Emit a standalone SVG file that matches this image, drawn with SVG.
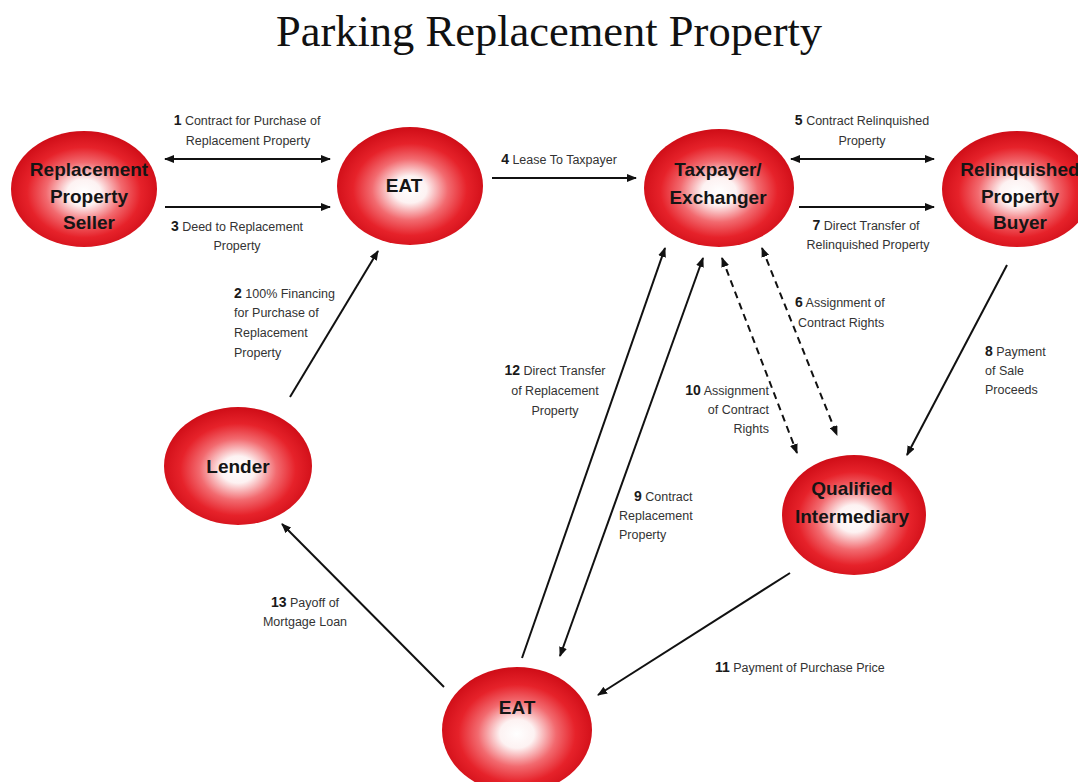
<svg xmlns="http://www.w3.org/2000/svg" width="1078" height="782" viewBox="0 0 1078 782">
<style>
.title{font-family:"Liberation Serif","Times New Roman",serif;font-size:44.5px;fill:#111}
.node{fill:url(#ball)}
.nt{font-family:"Liberation Sans",Arial,sans-serif;font-weight:bold;font-size:19px;fill:#151515;text-anchor:middle}
.lb{font-family:"Liberation Sans",Arial,sans-serif;font-size:12.5px;fill:#333}
.n{font-weight:bold;font-size:14px;fill:#1a1a1a}
.m{text-anchor:middle}
.e{text-anchor:end}
.ar{stroke:#111;stroke-width:2;fill:none;marker-end:url(#ah)}
.ar2{stroke:#111;stroke-width:2;fill:none;marker-end:url(#ah);marker-start:url(#ah)}
.ds{stroke-dasharray:7,5}
</style>
<defs>
<radialGradient id="ball" cx="50%" cy="53%" r="52%">
<stop offset="0" stop-color="#ffffff"/>
<stop offset="0.22" stop-color="#fdf2f2"/>
<stop offset="0.5" stop-color="#f26a6f"/>
<stop offset="0.75" stop-color="#e6222a"/>
<stop offset="1" stop-color="#d00e18"/>
</radialGradient>
<marker id="ah" viewBox="0 0 10 8" refX="9" refY="4" markerWidth="10" markerHeight="8" markerUnits="userSpaceOnUse" orient="auto-start-reverse">
<path d="M0,0 L10,4 L0,8 z" fill="#111"/>
</marker>
</defs>
<rect width="1078" height="782" fill="#ffffff"/>
<text class="title" x="549" y="46" text-anchor="middle">Parking Replacement Property</text>

<g id="connectors">
<line class="ar2" x1="165" y1="159" x2="330" y2="159"/>
<line class="ar" x1="165" y1="207" x2="330" y2="207"/>
<line class="ar" x1="492" y1="178" x2="636" y2="178"/>
<line class="ar2" x1="791" y1="159" x2="934" y2="159"/>
<line class="ar" x1="799" y1="207" x2="934" y2="207"/>
<line class="ar" x1="290" y1="397" x2="378" y2="251"/>
<line class="ar" x1="522" y1="658" x2="665" y2="248"/>
<line class="ar2" x1="703" y1="258" x2="560" y2="656"/>
<line class="ar2 ds" x1="722" y1="258" x2="797" y2="453"/>
<line class="ar2 ds" x1="762" y1="248" x2="837" y2="435"/>
<line class="ar" x1="1007" y1="265" x2="907" y2="455"/>
<line class="ar" x1="790" y1="573" x2="598" y2="695"/>
<line class="ar" x1="444" y1="687" x2="282" y2="524"/>

<text class="lb m" x="247" y="125"><tspan class="n">1</tspan> Contract for Purchase of</text>
<text class="lb m" x="248" y="145">Replacement Property</text>
<text class="lb m" x="237" y="231"><tspan class="n">3</tspan> Deed to Replacement</text>
<text class="lb m" x="237" y="250">Property</text>
<text class="lb m" x="559" y="164"><tspan class="n">4</tspan> Lease To Taxpayer</text>
<text class="lb m" x="862" y="125"><tspan class="n">5</tspan> Contract Relinquished</text>
<text class="lb m" x="862" y="145">Property</text>
<text class="lb m" x="866" y="230"><tspan class="n">7</tspan> Direct Transfer of</text>
<text class="lb m" x="868" y="249">Relinquished Property</text>
<text class="lb" x="234" y="298"><tspan class="n">2</tspan> 100% Financing</text>
<text class="lb" x="234" y="317">for Purchase of</text>
<text class="lb" x="234" y="337">Replacement</text>
<text class="lb" x="234" y="357">Property</text>
<text class="lb m" x="555" y="375"><tspan class="n">12</tspan> Direct Transfer</text>
<text class="lb m" x="555" y="395">of Replacement</text>
<text class="lb m" x="555" y="415">Property</text>
<text class="lb e" x="769" y="395"><tspan class="n">10</tspan> Assignment</text>
<text class="lb e" x="769" y="414">of Contract</text>
<text class="lb e" x="769" y="433">Rights</text>
<text class="lb" x="795" y="307"><tspan class="n">6</tspan> Assignment of</text>
<text class="lb" x="798" y="327">Contract Rights</text>
<text class="lb" x="985" y="356"><tspan class="n">8</tspan> Payment</text>
<text class="lb" x="985" y="375">of Sale</text>
<text class="lb" x="985" y="394">Proceeds</text>
<text class="lb" x="634" y="501"><tspan class="n">9</tspan> Contract</text>
<text class="lb" x="619" y="520">Replacement</text>
<text class="lb" x="619" y="539">Property</text>
<text class="lb" x="715" y="672"><tspan class="n">11</tspan> Payment of Purchase Price</text>
<text class="lb m" x="305" y="607"><tspan class="n">13</tspan> Payoff of</text>
<text class="lb m" x="305" y="626">Mortgage Loan</text>
</g>

<g id="seller">
<ellipse class="node" cx="84" cy="189" rx="73" ry="58"/>
<text class="nt" x="89" y="176">Replacement</text>
<text class="nt" x="89" y="203">Property</text>
<text class="nt" x="89" y="229">Seller</text>
</g>
<g id="eat-top">
<ellipse class="node" cx="410" cy="186" rx="73" ry="59"/>
<text class="nt" x="404" y="192">EAT</text>
</g>
<g id="taxpayer">
<ellipse class="node" cx="719" cy="188" rx="75" ry="59"/>
<text class="nt" x="718" y="176">Taxpayer/</text>
<text class="nt" x="718" y="204">Exchanger</text>
</g>
<g id="buyer">
<ellipse class="node" cx="1017" cy="189" rx="75" ry="58"/>
<text class="nt" x="1020" y="176">Relinquished</text>
<text class="nt" x="1020" y="203">Property</text>
<text class="nt" x="1020" y="229">Buyer</text>
</g>
<g id="lender">
<ellipse class="node" cx="238" cy="466" rx="74" ry="59"/>
<text class="nt" x="238" y="473">Lender</text>
</g>
<g id="qi">
<ellipse class="node" cx="854" cy="515" rx="72" ry="60"/>
<text class="nt" x="852" y="495">Qualified</text>
<text class="nt" x="852" y="523">Intermediary</text>
</g>
<g id="eat-bottom">
<ellipse class="node" cx="517" cy="730" rx="75" ry="63"/>
<text class="nt" x="517" y="714">EAT</text>
</g>
</svg>
